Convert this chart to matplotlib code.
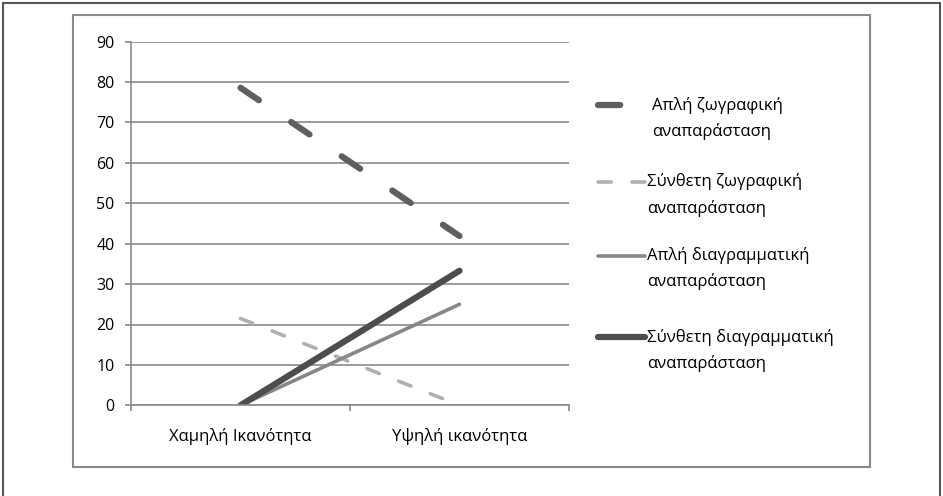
import numpy as np
import matplotlib.pyplot as plt
from matplotlib.lines import Line2D
from matplotlib.patches import Rectangle

plt.rcParams['font.family'] = ['Open Sans', 'DejaVu Sans']
plt.rcParams['lines.scale_dashes'] = False

# data
categories = ['Χαμηλή Ικανότητα', 'Υψηλή ικανότητα']
series_names = [('Απλή ζωγραφική', 'αναπαράσταση'),
                ('Σύνθετη ζωγραφική', 'αναπαράσταση'),
                ('Απλή διαγραμματική', 'αναπαράσταση'),
                ('Σύνθετη διαγραμματική', 'αναπαράσταση')]
simple_pict = [78.6, 41.9]
complex_pict = [21.5, 0]
simple_diag = [0, 25.0]
complex_diag = [0, 33.3]

W, H = 943, 496
fig = plt.figure(figsize=(W / 100, H / 100), dpi=100)

# outer and inner frames
fig.add_artist(Rectangle((3 / W, -0.05), 937 / W, 1 - 3 / H + 0.05,
                         transform=fig.transFigure, fill=False,
                         edgecolor='#555555', lw=1.5))
fig.add_artist(Rectangle((73 / W, 1 - 467 / H), 797 / W, 452 / H,
                         transform=fig.transFigure, fill=False,
                         edgecolor='#8a8a8a', lw=1.5))

x0, x1 = 131, 569
ytop, ybot = 41.7, 405.3
ax = fig.add_axes([x0 / W, 1 - ybot / H, (x1 - x0) / W, (ybot - ytop) / H])

fs = 12
x = np.array([0.5, 1.5])
styles = [
    dict(color='#5f5f5f', lw=4.5, dashes=(16, 28)),
    dict(color='#b0b0b0', lw=2.6, dashes=(9.5, 15)),
    dict(color='#878787', lw=2.6),
    dict(color='#4d4d4d', lw=4.5),
]
data = [simple_pict, complex_pict, simple_diag, complex_diag]
for vals, st in zip(data, styles):
    ax.plot(x, vals, solid_capstyle='round', dash_capstyle='round', **st)

ax.set_xlim(0, 2)
ax.set_ylim(0, 90)
ax.set_yticks(np.arange(0, 91, 10))
ax.yaxis.grid(True, color='#8a8a8a', lw=1.2)
ax.set_axisbelow(True)
for s in ['top', 'right']:
    ax.spines[s].set_visible(False)
for s in ['left', 'bottom']:
    ax.spines[s].set_color('#8a8a8a')
    ax.spines[s].set_linewidth(1.2)
ax.tick_params(axis='y', length=4.3, color='#8a8a8a', width=1.2,
               labelsize=11.5, pad=7.5)
ax.set_xticks(x)
ax.set_xticklabels(categories)
ax.set_xticks([0, 1, 2], minor=True)
ax.tick_params(axis='x', which='major', length=0, labelsize=fs, pad=16)
ax.tick_params(axis='x', which='minor', length=4.3, color='#8a8a8a', width=1.2)

# legend
entry_y = [105, 182, 256, 337]
for (l1, l2), st, yy in zip(series_names, styles, entry_y):
    if 'dashes' in st and st['lw'] > 3:
        xs = [598, 625]
    else:
        xs = [598, 645]
    ln = Line2D([xs[0] / W, xs[1] / W], [1 - yy / H] * 2, transform=fig.transFigure,
                solid_capstyle='round', dash_capstyle='round', **st)
    fig.add_artist(ln)
    tx = 652 if yy == entry_y[0] else 647
    fig.text(tx / W, 1 - yy / H, l1, ha='left', va='center', fontsize=fs)
    fig.text(tx / W, 1 - (yy + 26) / H, l2, ha='left', va='center', fontsize=fs)

fig.savefig('out.png', dpi=100)
